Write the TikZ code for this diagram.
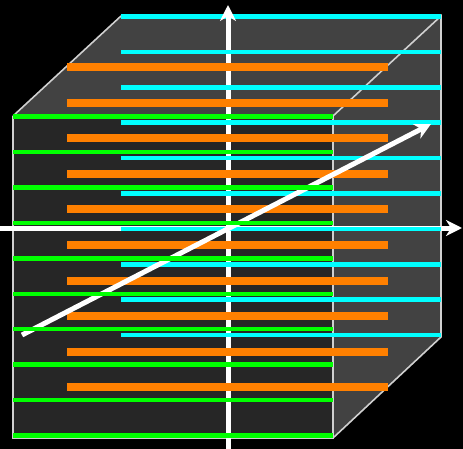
\documentclass[tikz,border=0pt]{standalone}
\usepackage{tikz}
\usetikzlibrary{arrows.meta}
\definecolor{facefront}{HTML}{262626}
\definecolor{faceside}{HTML}{424242}
\definecolor{edgegray}{HTML}{D0D0D0}
\definecolor{lnfront}{HTML}{00FF00}
\definecolor{lnmid}{HTML}{FF8000}
\definecolor{lnback}{HTML}{00FFFF}
\tikzset{
  axis/.style={-{Stealth[length=16pt,width=16pt,inset=5pt]},line width=5pt,white},
  cubeedge/.style={draw=edgegray,line width=1.6pt},
  frontline/.style={lnfront,line width=4.5pt},
  midline/.style={lnmid,line width=8pt},
  backline/.style={lnback,line width=4.5pt}
}

\begin{document}
\begin{tikzpicture}[x=1pt,y=-1pt]
\useasboundingbox (0,0) rectangle (463,449);
\fill[black] (0,0) rectangle (463,449);
\coordinate (ftl) at (13,116);
\coordinate (ftr) at (333,116);
\coordinate (fbr) at (333,438);
\coordinate (fbl) at (13,438);
\coordinate (btl) at (121,16);
\coordinate (btr) at (441,16);
\coordinate (bbr) at (441,337);
\fill[faceside] (ftl)--(btl)--(btr)--(bbr)--(fbr)--(fbl)--cycle;
\fill[facefront] (ftl) rectangle (fbr);
\draw[cubeedge] (ftl)--(btl) (ftr)--(btr)--(bbr)--(fbr);
\draw[cubeedge] (ftl)--(fbl)--(fbr)--(ftr);
\draw[backline] (121,16.5)--(441,16.5);
\coordinate (vbot) at (228,449);
\coordinate (vtop) at (228,5);
\coordinate (hleft) at (0,228);
\coordinate (hright) at (462,228);
\coordinate (dfrom) at (22,335);
\coordinate (dto) at (431,124);
\draw[axis] (vbot)--(vtop);
\draw[axis] (hleft)--(hright);
\foreach \i in {1,...,9}
  \draw[backline] (121,16.5+35.4*\i)--(441,16.5+35.4*\i);
\foreach \i in {0,...,9}
  \draw[midline] (67,67.5+35.5*\i)--(388,67.5+35.5*\i);
\draw[axis] (dfrom)--(dto);
\foreach \i in {0,...,9}
  \draw[frontline] (13,116.5+35.45*\i)--(333,116.5+35.45*\i);
\end{tikzpicture}
\end{document}
